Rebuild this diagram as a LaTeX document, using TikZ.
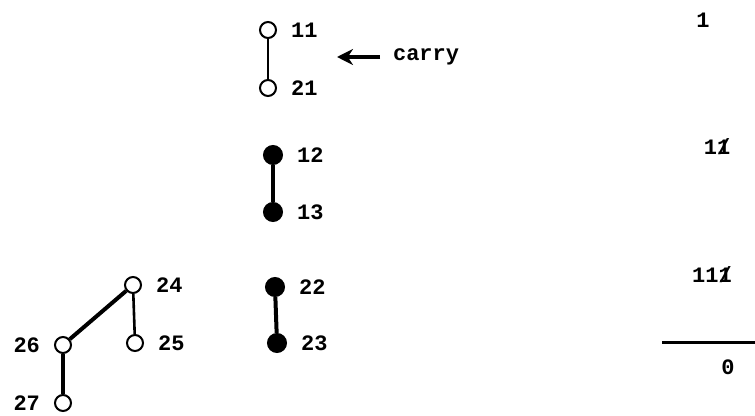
\documentclass[tikz,border=0pt]{standalone}
\usepackage{fontspec}
\setmonofont{Liberation Mono}
\usetikzlibrary{arrows.meta}
\tikzset{
    opennode/.style = {
        circle,
        draw=black,
        line width=1pt,
        inner sep=0pt,
        fill=white,
        minimum size=8pt
    },
    fullnode/.style = {
        opennode,
        fill=black,
        minimum size=9pt
    },
    numtext/.style = {
        font=\ttfamily\bfseries\fontsize{11}{13}\selectfont
    }
}
\newcommand{\struckone}{\makebox[0pt][l]{/}1}

\begin{document}
\begin{tikzpicture}[
                x=0.5pt, y=-0.5pt,
                every label/.style={numtext},
                label distance=3.5pt,
                link/.style={line width=1.3pt},
                boldlink/.style={line width=2pt}
            ]
            \useasboundingbox (0,0) rectangle (755,416);
            % carry pair
            \node [opennode, label=right:11] (n11) at (268,30) {};
            \node [opennode, label=right:21] (n21) at (268,88) {};
            \draw [link] (n11) -- (n21);
            \coordinate (carryend) at (380,57);
            \coordinate (carrytip) at (337,57);
            \draw [line width=2pt, -{Stealth[length=8pt,width=8pt]}] (carryend) -- (carrytip);
            \node [numtext, anchor=west] (carry) at (386,57) {carry};
            % filled pairs
            \node [fullnode, label=right:12] (n12) at (273,155) {};
            \node [fullnode, label=right:13] (n13) at (273,212) {};
            \draw [boldlink] (n12) -- (n13);
            \node [fullnode, label=right:22] (n22) at (275,287) {};
            \node [fullnode, label=right:23] (n23) at (277,343) {};
            \draw [boldlink] (n22) -- (n23);
            % small tree
            \node [opennode, label=right:24] (n24) at (133,285) {};
            \node [opennode, label=right:25] (n25) at (135,343) {};
            \node [opennode, label=left:26] (n26) at (63,345) {};
            \node [opennode, label=left:27] (n27) at (63,403) {};
            \draw [boldlink] (n24) -- (n26);
            \draw [link] (n24) -- (n25);
            \draw [boldlink] (n26) -- (n27);
            % sum column
            \node [numtext] (s1) at (703,20) {1};
            \node [numtext] (s2) at (717,147) {1\struckone};
            \node [numtext] (s3) at (712,275) {11\struckone};
            \coordinate (rulestart) at (662,343);
            \coordinate (ruleend) at (755,343);
            \draw [line width=1.5pt] (rulestart) -- (ruleend);
            \node [numtext] (s0) at (728,367) {0};
\end{tikzpicture}
\end{document}
